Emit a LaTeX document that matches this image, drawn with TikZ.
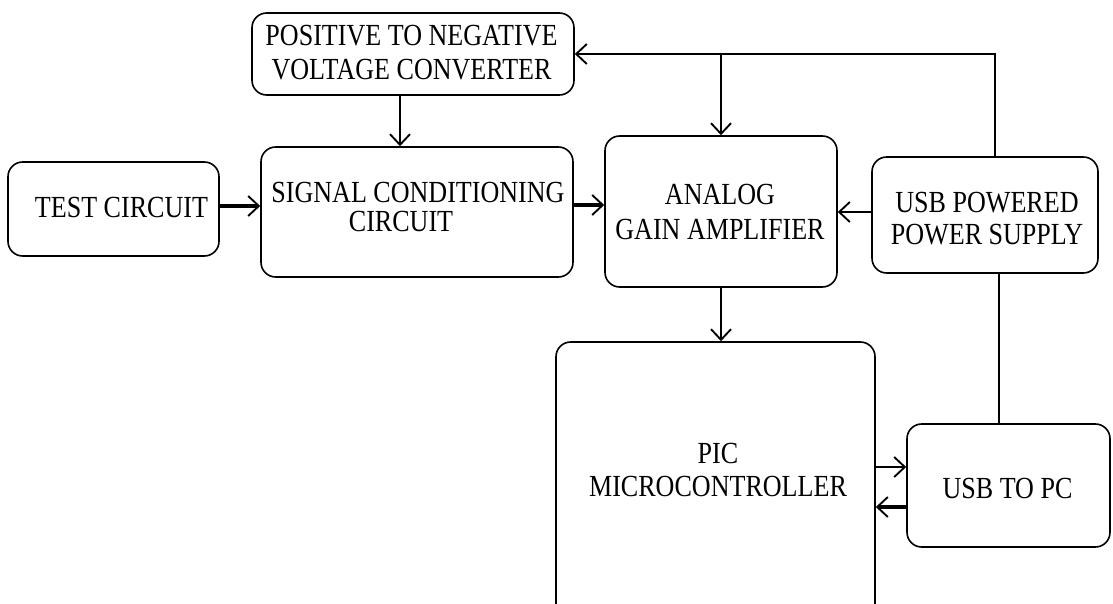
\documentclass[tikz,border=0pt]{standalone}
\usepackage{fontspec}
\setmainfont{Liberation Serif}[FakeStretch=0.85]
\usetikzlibrary{arrows.meta}
\usetikzlibrary{positioning}

\tikzset{
  blk/.style={draw, rounded corners=11pt, line width=1.2pt, inner sep=0pt},
  txt/.style={align=center, inner sep=0pt, font=\fontsize{23}{26}\selectfont},
  wire/.style={line width=1.8pt},
  arr/.style={wire, -{Straight Barb[length=8pt,width=15pt,line width=1.4pt]}}
}

\begin{document}
\begin{tikzpicture}[x=0.75pt,y=0.75pt,yscale=-1,xscale=1]
%set diagram left start at 0, and has height of 603
\useasboundingbox (0,0) rectangle (1113,603);

%Shape: Rounded Rect [id:cv]
\node [blk, minimum width=241.5pt, minimum height=61.5pt] (cv) at (413,54) {};
%Shape: Rounded Rect [id:tc]
\node [blk, minimum width=158.25pt, minimum height=70.5pt] (tc) at (113.5,209) {};
%Shape: Rounded Rect [id:sc]
\node [blk, minimum width=234pt, minimum height=97.5pt] (sc) at (417,212) {};
%Shape: Rounded Rect [id:ga]
\node [blk, minimum width=174pt, minimum height=113.25pt] (ga) at (721,211.5) {};
%Shape: Rounded Rect [id:ps]
\node [blk, minimum width=169.5pt, minimum height=87pt] (ps) at (985,215) {};
%Shape: Rounded Rect [id:mc]
\node [blk, minimum width=239.25pt, minimum height=208.5pt] (mc) at (715.5,481) {};
%Shape: Rounded Rect [id:ub]
\node [blk, minimum width=152.25pt, minimum height=92.25pt] (ub) at (1008.5,485.5) {};

%Straight Lines [id:tc-sc]
\draw [arr, line width=2.6pt] ([yshift=-2.25pt]tc.east) -- ([yshift=-2.25pt]tc.east -| sc.west);
%Straight Lines [id:sc-ga]
\draw [arr, line width=2.6pt] ([yshift=-5.25pt]sc.east) -- ([yshift=-5.25pt]sc.east -| ga.west);
%Straight Lines [id:ps-ga]
\draw [arr] ([yshift=-2.25pt]ps.west) -- ([yshift=-2.25pt]ps.west -| ga.east);
%Straight Lines [id:cv-sc]
\draw [arr] ([xshift=-9.75pt]cv.south) -- ([xshift=-9.75pt]cv.south |- sc.north);
%Straight Lines [id:ps-cv]
\draw [arr] ([xshift=7.5pt]ps.north) |- (cv.east);
%Straight Lines [id:top-ga]
\draw [arr] (ga.north |- cv.east) -- (ga.north);
%Straight Lines [id:ga-mc]
\draw [arr] (ga.south) -- (ga.south |- mc.north);
%Straight Lines [id:ps-ub]
\draw [wire] ([xshift=10.5pt]ps.south) -- ([xshift=10.5pt]ps.south |- ub.north);
%Straight Lines [id:mc-ub]
\draw [arr] ([yshift=-10.5pt]mc.east) -- ([yshift=-10.5pt]mc.east -| ub.west);
%Straight Lines [id:ub-mc]
\draw [arr, line width=2.6pt] ([yshift=19.5pt]mc.east -| ub.west) -- ([yshift=19.5pt]mc.east);

% Text Node
\node [txt, font=\fontsize{23}{25.5}\selectfont] (cv-t) at (411.5,53) {POSITIVE TO NEGATIVE\\VOLTAGE CONVERTER};
% Text Node
\node [txt] (tc-t) at (121.5,207) {TEST CIRCUIT};
% Text Node
\node [txt, font=\fontsize{23}{22}\selectfont] (sc-t) at (418,207) {SIGNAL CONDITIONING\\CIRCUIT\hspace*{25.5pt}};
% Text Node
\node [txt, font=\fontsize{23}{26.25}\selectfont] (ga-t) at (720,211.5) {ANALOG\\GAIN AMPLIFIER};
% Text Node
\node [txt, font=\fontsize{23}{24}\selectfont] (ps-t) at (987,218.5) {USB POWERED\\POWER SUPPLY};
% Text Node
\node [txt, font=\fontsize{23}{24.75}\selectfont] (mc-t) at (718,469.5) {PIC\\MICROCONTROLLER};
% Text Node
\node [txt] (ub-t) at (1007.5,488) {USB TO PC};

\end{tikzpicture}
\end{document}
